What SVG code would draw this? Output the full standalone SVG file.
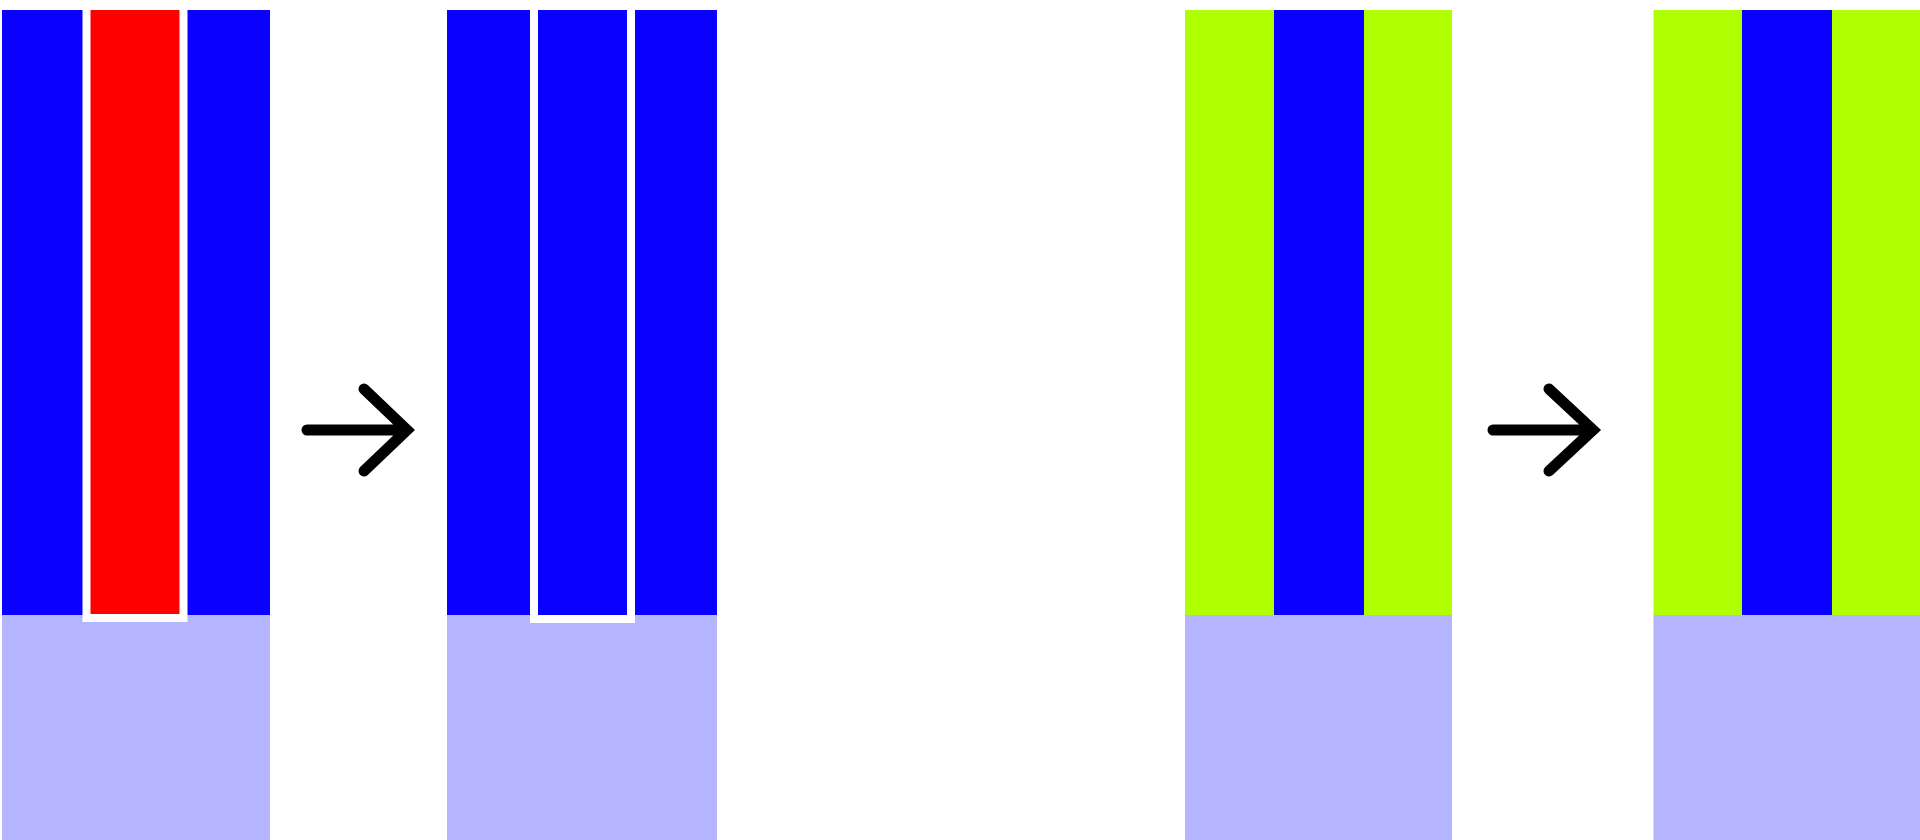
<svg xmlns="http://www.w3.org/2000/svg" width="1920" height="840" viewBox="0 0 1920 840">
  <style>
    .blue { fill: #0a00ff; }
    .red { fill: #ff0000; }
    .green { fill: #b0ff00; }
    .base { fill: #b4b4ff; }
    .hl { stroke: #ffffff; stroke-width: 8; }
    .arrow { fill: none; stroke: #000000; stroke-width: 11; stroke-linecap: round; stroke-linejoin: miter; }
  </style>
  <rect width="1920" height="840" fill="#ffffff"/>
  <g id="panel1">
    <rect class="base" x="2" y="615" width="268" height="225"/>
    <rect class="blue" x="2" y="10" width="90" height="605"/>
    <rect class="blue" x="180" y="10" width="90" height="605"/>
    <rect class="red hl" x="86.5" y="6" width="97" height="612"/>
  </g>
  <g id="panel2">
    <rect class="base" x="447" y="615" width="270" height="225"/>
    <rect class="blue" x="447" y="10" width="90" height="605"/>
    <rect class="blue" x="627" y="10" width="90" height="605"/>
    <rect class="blue hl" x="534" y="6" width="97" height="613"/>
  </g>
  <g id="panel3">
    <rect class="base" x="1185" y="615" width="267" height="225"/>
    <rect class="green" x="1185" y="10" width="89" height="605"/>
    <rect class="blue" x="1274" y="10" width="90" height="605"/>
    <rect class="green" x="1364" y="10" width="88" height="605"/>
  </g>
  <g id="panel4">
    <rect class="base" x="1653.5" y="615" width="266.5" height="225"/>
    <rect class="green" x="1653.5" y="10" width="88.5" height="605"/>
    <rect class="blue" x="1742" y="10" width="90" height="605"/>
    <rect class="green" x="1832" y="10" width="88" height="605"/>
  </g>
  <g id="connectors">
    <path class="arrow" d="M307,430 H406 M364,389 L407,430 L364,471"/>
    <path class="arrow" d="M1493,430 H1592 M1549,389 L1593,430 L1549,471"/>
  </g>
</svg>
